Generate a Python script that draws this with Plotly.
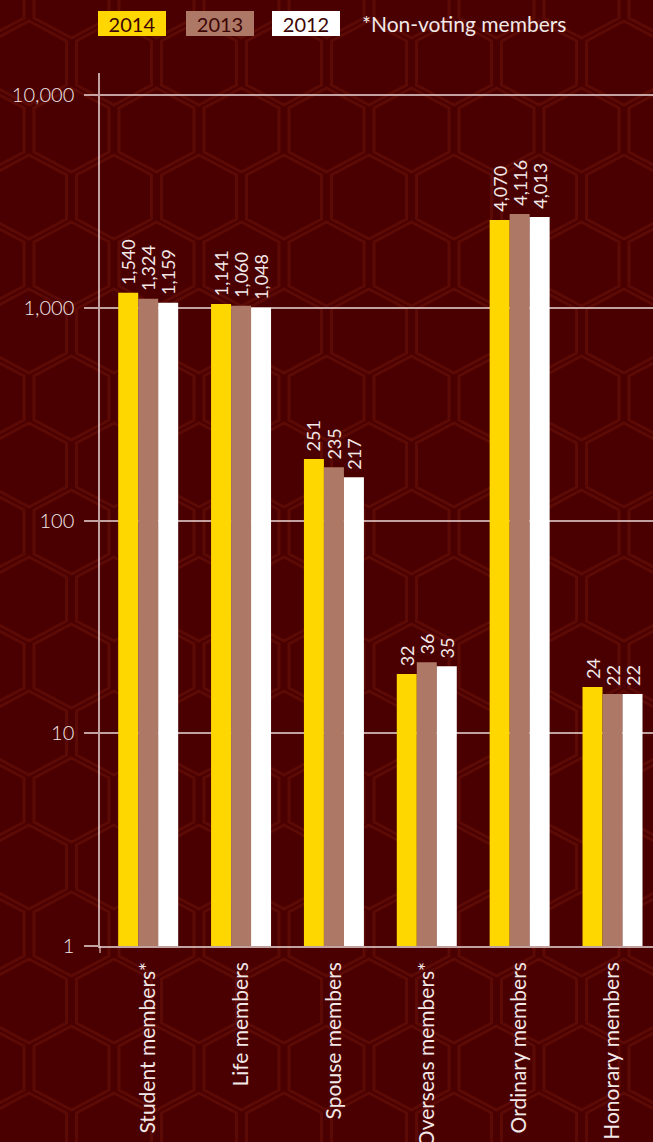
import math
import plotly.graph_objects as go

# ---------------- data ----------------
categories = ["Student members*", "Life members", "Spouse members",
              "Overseas members*", "Ordinary members", "Honorary members"]
series_names = ["2014", "2013", "2012"]

# printed value labels
label_2014 = [1540, 1141, 251, 32, 4070, 24]
label_2013 = [1324, 1060, 235, 36, 4116, 22]
label_2012 = [1159, 1048, 217, 35, 4013, 22]

# bar heights as drawn in the picture
bar_2014 = [1178, 1043, 195, 19.0, 2590, 16.5]
bar_2013 = [1105, 1024, 178.5, 21.6, 2766, 15.3]
bar_2012 = [1058, 1002, 160, 20.7, 2678, 15.3]

y_tickvals = [1, 10, 100, 1000, 10000]
y_ticktext = ["1", "10", "100", "1,000", "10,000"]

colors = ["#FFD700", "#AD7866", "#FFFFFF"]

# ---------------- layout helpers ----------------
W, H = 653, 1142
ML, MR, MT, MB = 100, 0, 73, 196
PW, PH = W - ML - MR, H - MT - MB
X_RANGE = [-0.519, 5.436]
BARGAP = 0.354


def px_x(px):
    return (px - ML) / PW


def px_y(py):
    return (H - MB - py) / PH


BG = "#4a0000"
GRID = "rgba(235,215,215,0.75)"
TXT = "#f2e8e8"

fig = go.Figure()
for name, bars, labels, col in zip(series_names,
                                   [bar_2014, bar_2013, bar_2012],
                                   [label_2014, label_2013, label_2012],
                                   colors):
    fig.add_trace(go.Bar(
        name=name, x=categories, y=bars,
        marker=dict(color=col, line=dict(width=0)),
        customdata=labels,
        hovertemplate="%{x}: %{customdata:,}<extra>" + name + "</extra>",
    ))

# value labels: rotated text sitting on top of each bar
cat_px = PW / (X_RANGE[1] - X_RANGE[0])          # pixels per category
bar_px = cat_px * (1 - BARGAP) / len(series_names)
annotations = []
for si, (bars, labels) in enumerate(zip([bar_2014, bar_2013, bar_2012],
                                        [label_2014, label_2013, label_2012])):
    shift = (si - (len(series_names) - 1) / 2) * bar_px
    for cat, b, lab in zip(categories, bars, labels):
        annotations.append(dict(
            x=cat, y=math.log10(b), xref="x", yref="y",
            text=f"{lab:,}", textangle=-90, showarrow=False,
            xanchor="center", yanchor="bottom", xshift=shift, yshift=7,
            borderpad=0,
            font=dict(family="Lato", size=18, color=TXT)))

# ---------------- hexagon background pattern ----------------
a, h, e = 37.5, 22, 20
parts = []
for k in range(-3, 18):
    cy = 130 + 67 * k
    off = 42.5 if k % 2 else 0
    for j in range(-4, 6):
        cx = 241.5 + 85 * j + off
        pts = [(cx, cy - h - e), (cx + a, cy - h), (cx + a, cy + h),
               (cx, cy + h + e), (cx - a, cy + h), (cx - a, cy - h)]
        seg = "M" + " L".join(f"{px_x(x):.5f},{px_y(y):.5f}" for x, y in pts) + " Z"
        parts.append(seg)
shapes = [dict(type="path", path=" ".join(parts), xref="paper", yref="paper",
               line=dict(color="#5c0a05", width=3), layer="below")]
# small extension of the y axis line below the baseline
shapes.append(dict(type="line", xref="paper", yref="paper",
                   x0=0, x1=0, y0=0, y1=px_y(953),
                   line=dict(color=GRID, width=1.5)))

# ---------------- legend boxes ----------------
box_left = [98, 186, 272]
for name, col, left in zip(series_names, colors, box_left):
    annotations.append(dict(
        text=name, xref="paper", yref="paper",
        x=px_x(left), y=px_y(11), xanchor="left", yanchor="top",
        showarrow=False, width=68, height=25, align="center", valign="middle",
        bgcolor=col, borderpad=0, borderwidth=0,
        font=dict(family="Lato", size=20, color="#3d0505")))
annotations.append(dict(
    text="*Non-voting members", xref="paper", yref="paper",
    x=px_x(360), y=px_y(24), xanchor="left", yanchor="middle",
    showarrow=False, font=dict(family="Lato", size=21, color=TXT)))

fig.update_layout(
    width=W, height=H,
    margin=dict(l=ML, r=MR, t=MT, b=MB, pad=0, autoexpand=False),
    paper_bgcolor=BG, plot_bgcolor="rgba(0,0,0,0)",
    barmode="group", bargap=BARGAP, bargroupgap=0,
    showlegend=False,
    shapes=shapes, annotations=annotations,
    xaxis=dict(type="category", range=X_RANGE, automargin=False,
               showgrid=False, zeroline=False,
               showline=True, linecolor=GRID, linewidth=1.5,
               ticks="", tickangle=-90, ticklabelstandoff=6,
               tickfont=dict(family="Lato", size=21, color=TXT)),
    yaxis=dict(type="log", range=[0, 4.105], automargin=False,
               tickvals=y_tickvals, ticktext=y_ticktext,
               showgrid=True, gridcolor=GRID, gridwidth=1.5,
               showline=True, linecolor=GRID, linewidth=1.5,
               ticks="outside", ticklen=14, tickcolor=GRID, tickwidth=1.5,
               ticklabelstandoff=6, zeroline=False,
               tickfont=dict(family="Lato", size=20, weight=300, color=TXT)),
    font=dict(family="Lato", color=TXT),
)

fig.write_html("out.html",
               config={"displayModeBar": False},
               post_script="document.body.style.margin='0';"
                           "document.body.style.overflow='hidden';")
